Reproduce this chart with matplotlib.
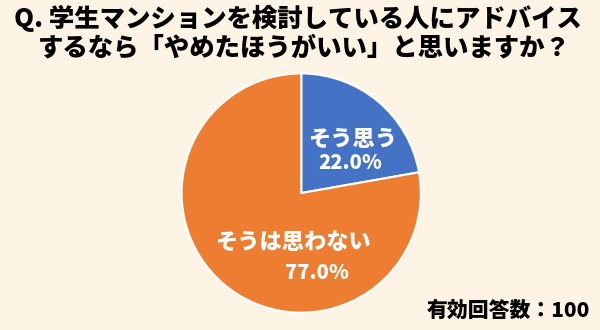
import matplotlib
matplotlib.use("Agg")
import matplotlib.pyplot as plt

categories = ["そう思う", "そうは思わない"]
values = [22.0, 77.0]
colors = ["#4472C4", "#ED7D31"]
title_lines = ["Q. 学生マンションを検討している人にアドバイス",
               "するなら「やめたほうがいい」と思いますか？"]
footer = "有効回答数：100"

bg = "#FEF4E6"
plt.rcParams['font.family'] = ['Noto Sans CJK JP', 'DejaVu Sans']

fig = plt.figure(figsize=(6, 3.3), dpi=100, facecolor=bg)
ax = fig.add_axes([0.2987, 0.0453, 0.4067, 0.7394])
ax.set_facecolor(bg)
wedges, _ = ax.pie(values, colors=colors, startangle=90, counterclock=False,
                   wedgeprops=dict(edgecolor="white", linewidth=1.5), radius=1.0)
ax.set_xlim(-1.02, 1.02)
ax.set_ylim(-1.02, 1.02)
ax.set_aspect('equal')

label_pos = [((0.43, 0.45), (0.41, 0.25)), ((-0.07, -0.41), (0.13, -0.67))]
for cat, v, (p1, p2) in zip(categories, values, label_pos):
    ax.text(p1[0], p1[1], cat, ha='center', va='center', color='white',
            fontsize=16, fontweight=900)
    ax.text(p2[0], p2[1], f"{v:.1f}%", ha='center', va='center', color='white',
            fontsize=14.5, fontweight=900)

fig.text(0.497, 1 - 18/330, title_lines[0], ha='center', va='center',
         fontsize=18.3, fontweight=900, color='black')
fig.text(0.508, 1 - 47/330, title_lines[1], ha='center', va='center',
         fontsize=18.3, fontweight=900, color='black')
fig.text(590/600, 1 - 311/330, footer, ha='right', va='center',
         fontsize=15, fontweight=900, color='black')

fig.savefig("out.png", dpi=100, facecolor=bg)
